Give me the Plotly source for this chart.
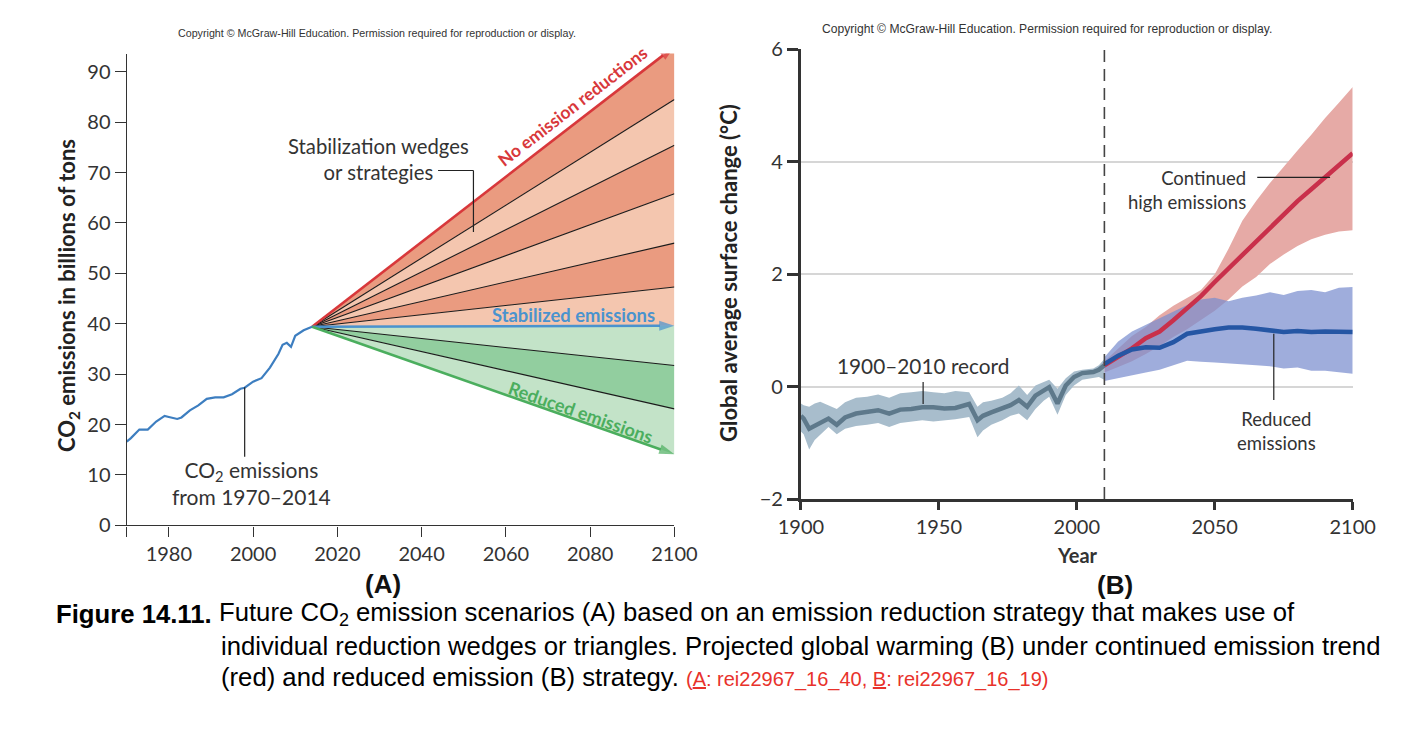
import plotly.graph_objects as go

W, H = 1404, 736

# ---------------- Panel A data ----------------
hist_years = [1970, 1971, 1973, 1975, 1977, 1979, 1980, 1982, 1983, 1985, 1987, 1989, 1991,
              1993, 1995, 1997, 1998, 2000, 2002, 2004, 2006, 2007, 2008, 2009, 2010, 2012, 2014]
hist_co2 = [16.6, 17.3, 19.0, 19.0, 20.6, 21.7, 21.5, 21.1, 21.4, 22.8, 23.8, 25.1, 25.4,
            25.4, 26.0, 27.1, 27.3, 28.5, 29.2, 31.3, 34.0, 35.8, 36.2, 35.4, 37.6, 38.7, 39.4]
scen_start_year = 2014
scen_end_year = 2100
scen_start_value = 39.4
# 2100 values of scenario boundaries, from "no reduction" down to "reduced"
no_reduction_2100 = 95.0
wedge_lines_2100 = [84.5, 75.4, 65.8, 56.0, 47.3]
stabilized_2100 = 39.6
reduction_lines_2100 = [31.7, 23.1]
reduced_2100 = 14.1

# ---------------- Panel B data ----------------
rec_years = [1900, 1901, 1903, 1905, 1907, 1910, 1913, 1916, 1920, 1924, 1928, 1932, 1936, 1940,
             1944, 1948, 1952, 1956, 1961, 1964, 1966, 1969, 1973, 1976, 1979, 1982, 1985, 1988,
             1990, 1993, 1996, 1999, 2002, 2006, 2008, 2010]
rec_mean = [-0.52, -0.57, -0.75, -0.70, -0.65, -0.57, -0.68, -0.55, -0.48, -0.45, -0.42, -0.48,
            -0.41, -0.40, -0.37, -0.37, -0.39, -0.38, -0.31, -0.60, -0.52, -0.46, -0.39, -0.33,
            -0.24, -0.36, -0.16, -0.07, -0.01, -0.30, 0.02, 0.17, 0.24, 0.26, 0.30, 0.38]
rec_upper = [-0.30, -0.33, -0.36, -0.30, -0.27, -0.33, -0.40, -0.28, -0.20, -0.18, -0.14, -0.20,
             -0.12, -0.10, -0.08, -0.10, -0.12, -0.08, -0.10, -0.36, -0.28, -0.25, -0.20, -0.12,
             0.02, -0.15, 0.02, 0.08, 0.12, -0.04, 0.15, 0.27, 0.30, 0.32, 0.38, 0.49]
rec_lower = [-0.80, -0.85, -1.12, -0.95, -0.86, -0.72, -0.85, -0.75, -0.70, -0.68, -0.65, -0.72,
             -0.65, -0.62, -0.60, -0.62, -0.60, -0.58, -0.54, -0.90, -0.78, -0.68, -0.60, -0.52,
             -0.48, -0.60, -0.40, -0.25, -0.18, -0.50, -0.15, 0.02, 0.12, 0.15, 0.17, 0.12]

proj_years = [2010, 2015, 2020, 2025, 2030, 2035, 2040, 2045, 2050, 2055, 2060, 2065, 2070,
              2075, 2080, 2085, 2090, 2095, 2100]
high_mean = [0.38, 0.52, 0.68, 0.86, 0.98, 1.18, 1.40, 1.61, 1.86, 2.10, 2.35, 2.60, 2.84,
             3.07, 3.30, 3.51, 3.72, 3.93, 4.15]
high_upper = [0.45, 0.68, 0.90, 1.06, 1.27, 1.44, 1.58, 1.72, 2.00, 2.45, 2.95, 3.30, 3.62,
              3.92, 4.20, 4.48, 4.78, 5.05, 5.33]
high_lower = [0.25, 0.35, 0.45, 0.58, 0.72, 0.88, 1.02, 1.18, 1.35, 1.55, 1.78, 1.95, 2.18,
              2.35, 2.50, 2.62, 2.70, 2.76, 2.78]
low_mean = [0.40, 0.55, 0.66, 0.70, 0.69, 0.79, 0.94, 0.99, 1.02, 1.05, 1.05, 1.03, 0.99,
            0.97, 0.99, 0.97, 0.98, 0.97, 0.97]
low_upper = [0.52, 0.80, 0.98, 1.10, 1.22, 1.33, 1.45, 1.55, 1.58, 1.52, 1.58, 1.62, 1.68,
             1.63, 1.70, 1.72, 1.68, 1.76, 1.77]
low_lower = [0.10, 0.15, 0.20, 0.25, 0.30, 0.38, 0.46, 0.44, 0.43, 0.41, 0.40, 0.38, 0.36,
             0.32, 0.34, 0.28, 0.28, 0.26, 0.23]

a_xticks = [1970, 1980, 2000, 2020, 2040, 2060, 2080, 2100]
a_xticktext = ["", "1980", "2000", "2020", "2040", "2060", "2080", "2100"]
a_yticks = [0, 10, 20, 30, 40, 50, 60, 70, 80, 90]
b_xticks = [1900, 1950, 2000, 2050, 2100]
b_yticks = [-2, 0, 2, 4, 6]
b_yticktext = ["\u22122", "0", "2", "4", "6"]
dashed_year = 2010

# ---------------- styles ----------------
FONT = "Lato"
TXT = "#333333"
DARK_SALMON = "#EA9B80"
LIGHT_SALMON = "#F4C6AF"
LIGHT_GREEN = "#C3E3C8"
DARK_GREEN = "#92CE9F"
RED = "#D8383B"
BLUE = "#4A93CE"
GREEN = "#4BAE5E"
HIST_BLUE = "#3D7EC0"


def ppx(x):
    return x / W


def ppy(y):
    return 1 - y / H


fig = go.Figure()

# ---- Panel A wedges ----
bounds = [no_reduction_2100] + wedge_lines_2100 + [stabilized_2100] + reduction_lines_2100 + [reduced_2100]
fills = [DARK_SALMON, LIGHT_SALMON, DARK_SALMON, LIGHT_SALMON, DARK_SALMON, LIGHT_SALMON,
         LIGHT_GREEN, DARK_GREEN, LIGHT_GREEN]
for i in range(len(bounds) - 1):
    fig.add_trace(go.Scatter(
        x=[scen_start_year, scen_end_year, scen_end_year, scen_start_year],
        y=[scen_start_value, bounds[i], bounds[i + 1], scen_start_value],
        fill="toself", fillcolor=fills[i], line=dict(width=0), mode="lines",
        hoverinfo="skip", showlegend=False, xaxis="x", yaxis="y"))

for v in wedge_lines_2100 + reduction_lines_2100:
    fig.add_trace(go.Scatter(x=[scen_start_year, scen_end_year], y=[scen_start_value, v],
                             mode="lines", line=dict(color="#1a1a1a", width=1.1),
                             hoverinfo="skip", showlegend=False, xaxis="x", yaxis="y"))

main_lines = [(no_reduction_2100, RED), (stabilized_2100, BLUE), (reduced_2100, GREEN)]
for v, c in main_lines:
    fig.add_trace(go.Scatter(x=[scen_start_year, scen_end_year], y=[scen_start_value, v],
                             mode="lines+markers", line=dict(color=c, width=2.6),
                             marker=dict(symbol="arrow", size=[0, 16], angleref="previous",
                                         color=c, line=dict(width=0)),
                             hoverinfo="skip", showlegend=False, xaxis="x", yaxis="y"))

fig.add_trace(go.Scatter(x=hist_years, y=hist_co2, mode="lines",
                         line=dict(color=HIST_BLUE, width=2.2),
                         hoverinfo="skip", showlegend=False, xaxis="x", yaxis="y"))

annotations = []

# ---- Panel B ----
fig.add_trace(go.Scatter(x=rec_years + rec_years[::-1], y=rec_upper + rec_lower[::-1],
                         fill="toself", fillcolor="#A8BDCC", line=dict(width=0), mode="lines",
                         hoverinfo="skip", showlegend=False, xaxis="x2", yaxis="y2"))
fig.add_trace(go.Scatter(x=proj_years + proj_years[::-1], y=high_upper + high_lower[::-1],
                         fill="toself", fillcolor="#E6AAA6", line=dict(width=0), mode="lines",
                         hoverinfo="skip", showlegend=False, xaxis="x2", yaxis="y2"))
fig.add_trace(go.Scatter(x=proj_years + proj_years[::-1], y=low_upper + low_lower[::-1],
                         fill="toself", fillcolor="rgba(122,142,206,0.72)", line=dict(width=0),
                         mode="lines", hoverinfo="skip", showlegend=False, xaxis="x2", yaxis="y2"))
fig.add_trace(go.Scatter(x=rec_years, y=rec_mean, mode="lines",
                         line=dict(color="#5E798B", width=4.5),
                         hoverinfo="skip", showlegend=False, xaxis="x2", yaxis="y2"))
fig.add_trace(go.Scatter(x=proj_years, y=high_mean, mode="lines",
                         line=dict(color="#C9304B", width=4.5),
                         hoverinfo="skip", showlegend=False, xaxis="x2", yaxis="y2"))
fig.add_trace(go.Scatter(x=proj_years, y=low_mean, mode="lines",
                         line=dict(color="#2556A4", width=4.5),
                         hoverinfo="skip", showlegend=False, xaxis="x2", yaxis="y2"))
fig.add_trace(go.Scatter(x=[dashed_year, dashed_year], y=[b_yticks[0], b_yticks[-1]], mode="lines",
                         line=dict(color="#444444", width=1.6, dash="12px,7px"),
                         hoverinfo="skip", showlegend=False, xaxis="x2", yaxis="y2"))

# ---- shapes (leader lines) ----
shapes = []


def seg(x0, y0, x1, y1, xr, yr):
    shapes.append(dict(type="line", x0=x0, y0=y0, x1=x1, y1=y1, xref=xr, yref=yr,
                       line=dict(color="#222222", width=1.2)))


seg(2043.9, 70.4, 2052.3, 70.4, "x", "y")
seg(2052.3, 70.4, 2052.3, 58.2, "x", "y")
seg(1998.0, 27.4, 1998.0, 13.6, "x", "y")
seg(1944.3, 0.08, 1944.3, -0.31, "x2", "y2")
seg(2065.4, 3.72, 2091.8, 3.72, "x2", "y2")
seg(2071.4, 0.94, 2071.4, -0.24, "x2", "y2")


def text(x, y, s, size, color=TXT, bold=False, family=FONT, angle=0, xanchor="center",
         align="center", xref="paper", yref="paper", pad=1):
    if bold:
        s = "<b>" + s + "</b>"
    annotations.append(dict(x=x, y=y, xref=xref, yref=yref, text=s, showarrow=False,
                            font=dict(family=family, size=size, color=color),
                            textangle=angle, xanchor=xanchor, yanchor="middle", align=align,
                            borderpad=pad))


# copyright lines
text(ppx(377), ppy(33), "Copyright \u00a9 McGraw-Hill Education. Permission required for reproduction or display.",
     10.7, color="#333333", family="Liberation Sans")
text(ppx(1047), ppy(29.5), "Copyright \u00a9 McGraw-Hill Education. Permission required for reproduction or display.",
     12.1, color="#333333", family="Liberation Sans")

# panel A texts
text(ppx(68), ppy(296), "CO<sub>2</sub> emissions in billions of tons", 22, color="#222222", bold=True, angle=-90)
text(ppx(378), ppy(158.7), "Stabilization wedges<br>or strategies", 20.3)
text(2075.7, 83.2, "No emission reductions", 17.5, color=RED, bold=True, angle=-37.7, xref="x", yref="y")
text(2076.0, 41.7, "Stabilized emissions", 18.4, color=BLUE, bold=True, xref="x", yref="y")
text(2077.8, 22.5, "Reduced emissions", 18, color=GREEN, bold=True, angle=19.4, xref="x", yref="y")
text(ppx(251.6), ppy(483), "CO<sub>2</sub> emissions<br>from 1970\u20132014", 21)
text(ppx(382.6), ppy(583.5), "(A)", 26, color="#111111", bold=True, family="Liberation Sans", pad=0)

# panel B texts
text(ppx(728), ppy(273), "Global average surface change (\u00b0C)", 22, color="#222222", bold=True, angle=-90)
text(ppx(1077), ppy(555), "Year", 20, color="#333333", bold=True)
text(ppx(1115), ppy(584.5), "(B)", 26, color="#111111", bold=True, family="Liberation Sans", pad=0)
text(ppx(923), ppy(365.7), "1900\u20132010 record", 20.8)
text(ppx(1248), ppy(189.5), "Continued<br>high emissions", 18.5, xanchor="right", align="right")
text(ppx(1276), ppy(430.8), "Reduced<br>emissions", 18.5)

# caption
CAP = "Liberation Sans"
CS = 25.7
text(ppx(55), ppy(614), "Figure 14.11.", CS, color="#000000", bold=True, family=CAP, xanchor="left", align="left", pad=0)
text(ppx(218), ppy(614),
     "Future CO<sub>2</sub> emission scenarios (A) based on an emission reduction strategy that makes use of",
     CS, color="#000000", family=CAP, xanchor="left", align="left", pad=0)
text(ppx(220), ppy(645.5),
     "individual reduction wedges or triangles. Projected global warming (B) under continued emission trend",
     CS, color="#000000", family=CAP, xanchor="left", align="left", pad=0)
text(ppx(220), ppy(677),
     "(red) and reduced emission (B) strategy. <span style='color:#E8322B;font-size:20px'>(<u>A</u>: rei22967_16_40, <u>B</u>: rei22967_16_19)</span>",
     CS, color="#000000", family=CAP, xanchor="left", align="left", pad=0)

axis_font = dict(family=FONT, size=20, color="#333333")

fig.update_layout(
    template="none",
    width=W, height=H, autosize=False,
    margin=dict(l=0, r=0, t=0, b=0, pad=0, autoexpand=False),
    paper_bgcolor="white", plot_bgcolor="white",
    showlegend=False,
    xaxis=dict(domain=[ppx(126.7), ppx(674.4)], range=[1970, 2100], tickvals=a_xticks,
               ticktext=a_xticktext, ticks="outside", ticklen=10, tickwidth=1.4, tickcolor="#333333",
               showline=True, linecolor="#333333", linewidth=1.4, showgrid=False, zeroline=False,
               tickfont=axis_font, anchor="y", fixedrange=True, automargin=False),
    yaxis=dict(domain=[1 - 525.3 / H, 1 - 53.6 / H], range=[0, 93.6], tickvals=a_yticks,
               ticks="outside", ticklen=11, tickwidth=1.4, tickcolor="#333333",
               showline=True, linecolor="#333333", linewidth=1.4, showgrid=False, zeroline=False,
               tickfont=axis_font, anchor="x", fixedrange=True, automargin=False),
    xaxis2=dict(domain=[ppx(800.9), ppx(1352.7)], range=[1900, 2100], tickvals=b_xticks,
                ticks="outside", ticklen=8, tickwidth=2.5, tickcolor="#333333",
                showline=True, linecolor="#333333", linewidth=3, showgrid=False, zeroline=False,
                tickfont=axis_font, anchor="y2", fixedrange=True, automargin=False),
    yaxis2=dict(domain=[1 - 499 / H, 1 - 49.3 / H], range=[-2, 6], tickvals=b_yticks,
                ticktext=b_yticktext, ticks="outside", ticklen=11, tickwidth=2.5, tickcolor="#333333",
                showline=True, linecolor="#333333", linewidth=3, showgrid=True,
                gridcolor="#D6D6D6", gridwidth=1.6, zeroline=False,
                tickfont=axis_font, anchor="x2", fixedrange=True, automargin=False),
    annotations=annotations,
    shapes=shapes,
)

fig.write_html("out.html", config={"displayModeBar": False},
               post_script="document.body.style.margin='0';")
